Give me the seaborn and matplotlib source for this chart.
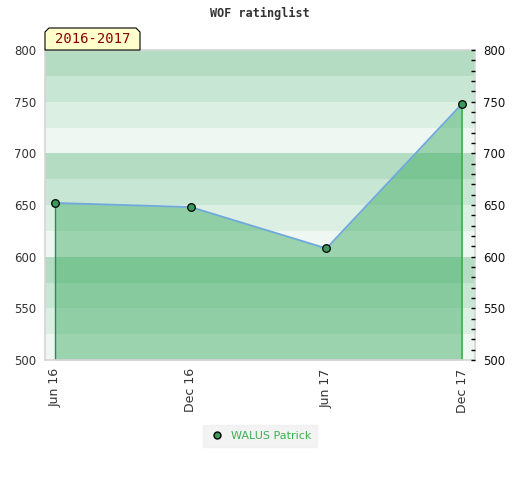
import matplotlib
matplotlib.use("Agg")
import matplotlib.pyplot as plt
from matplotlib.patches import Polygon
import seaborn as sns
import pandas as pd

# Daten
periods = ["Jun 16", "Dec 16", "Jun 17", "Dec 17"]
ratings = [652, 648, 608, 748]
player = "WALUS Patrick"
season = "2016-2017"
y_ticks = [500, 550, 600, 650, 700, 750, 800]

df = pd.DataFrame({"Period": periods, "Rating": ratings, "x": range(len(periods))})

sns.set_style("white")
plt.rcParams["font.family"] = ["DejaVu Sans"]

fig = plt.figure(figsize=(5.2, 4.8), dpi=100)
ax = fig.add_axes([45 / 520, 1 - 360 / 480, 430 / 520, 310 / 480])

# Hintergrundstreifen (4 Toene pro 100 Punkte)
band_colors = ["#eff7f2", "#dcefe3", "#c8e6d4", "#b3dcc2"]
for lo in range(500, 800, 25):
    ax.axhspan(lo, lo + 25, color=band_colors[(lo // 25) % 4], lw=0, zorder=0)

# Flaeche unter der Kurve
ax.fill_between(df["x"], df["Rating"], 500, color="#3cac61", alpha=0.47, lw=0, zorder=1)
ax.vlines(df["x"].iloc[0], 500, df["Rating"].iloc[0], color="#2e8b57", lw=1, zorder=2)
ax.vlines(df["x"].iloc[-1], 500, df["Rating"].iloc[-1], color="#3cb054", lw=1.2, zorder=2)

sns.lineplot(data=df, x="x", y="Rating", ax=ax, color="#6fa8dc", lw=1.3, zorder=3,
             legend=False)
sns.scatterplot(data=df, x="x", y="Rating", ax=ax, color="#3a9a5c", edgecolor="black",
                linewidth=0.9, s=30, zorder=4, legend=False)

ax.set_xlim(-0.074, 3.095)
ax.set_ylim(500, 800)
ax.set_xticks(df["x"])
ax.set_xticklabels(periods, rotation=90, fontsize=9, color="#333333")
ax.set_yticks(y_ticks)
ax.set_yticklabels([str(t) for t in y_ticks], fontsize=8.5, color="#333333")
ax.tick_params(axis="both", length=0, pad=6)
ax.set_xlabel("")
ax.set_ylabel("")
for sp in ax.spines.values():
    sp.set_color("#d5d5d5")
    sp.set_linewidth(1.2)

ax2 = ax.twinx()
ax2.set_ylim(500, 800)
ax2.set_yticks(y_ticks)
ax2.set_yticklabels([str(t) for t in y_ticks], fontsize=8.5, color="#111111")
ax2.set_yticks(range(500, 801, 10), minor=True)
ax2.tick_params(axis="y", which="both", direction="in", length=3, width=1, pad=6,
                color="black")
for sp in ax2.spines.values():
    sp.set_visible(False)

fig.text(0.5, 1 - 13 / 480, "WOF ratinglist", ha="center", va="center",
         fontsize=8.5, fontweight="bold", family="DejaVu Sans Mono", color="#333333")

# Saison-Etikett
x0, x1 = 45 / 520, 140 / 520
y0, y1 = 1 - 50 / 480, 1 - 28 / 480
c = 4 / 520
cy = 4 / 480
tag = Polygon([(x0, y0), (x0, y1 - cy), (x0 + c, y1), (x1 - c, y1), (x1, y1 - cy), (x1, y0)],
              closed=True, transform=fig.transFigure, facecolor="#ffffcc",
              edgecolor="black", lw=0.8, zorder=10)
fig.patches.append(tag)
fig.text((x0 + x1) / 2, (y0 + y1) / 2, season, ha="center", va="center",
         fontsize=10, family="DejaVu Sans Mono", color="#8b0000", zorder=11)

handle = plt.Line2D([], [], marker="o", ls="", markerfacecolor="#3a9a5c",
                    markeredgecolor="black", markersize=5)
leg = fig.legend([handle], [player], loc="center", bbox_to_anchor=(0.5, 1 - 436 / 480),
                 frameon=True, fontsize=8, handletextpad=0.5, handlelength=1.5,
                 borderpad=0.5, fancybox=False)
leg.get_frame().set_facecolor("#f0f0f0")
leg.get_frame().set_edgecolor("#f0f0f0")
for t in leg.get_texts():
    t.set_color("#3cb054")

fig.savefig("out.png", dpi=100)
